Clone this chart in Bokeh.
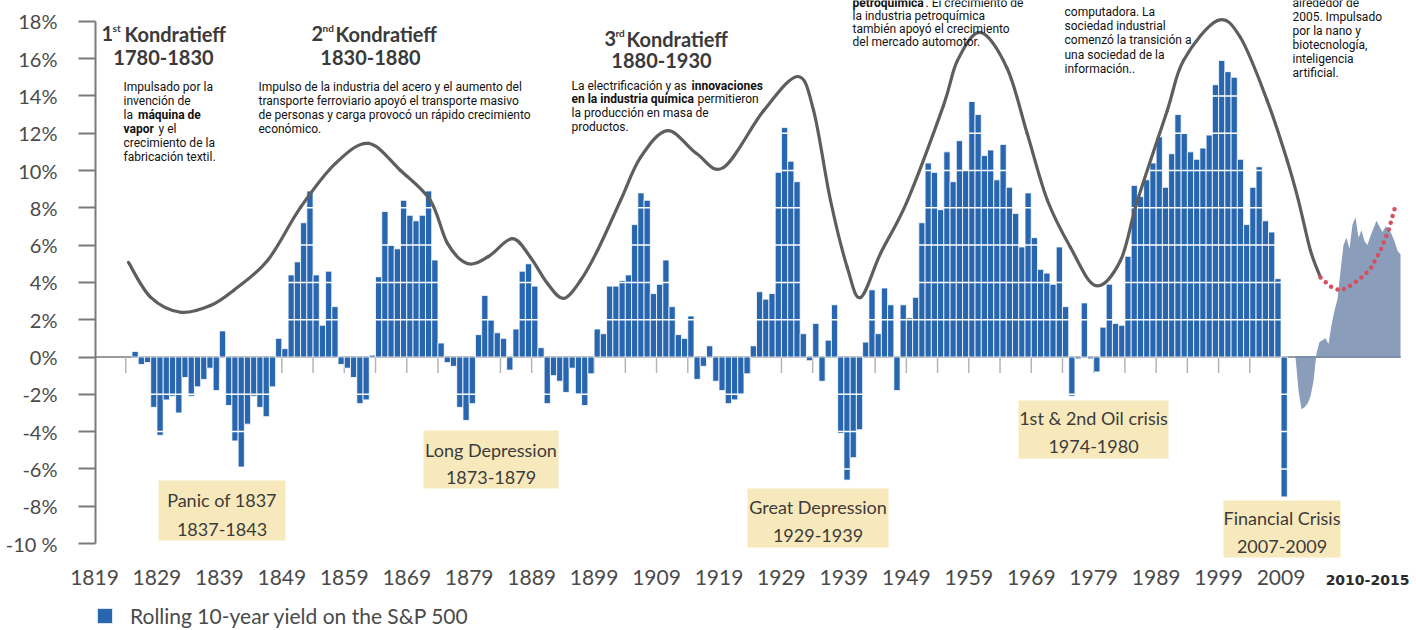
import numpy as np
from bokeh.plotting import figure
from bokeh.models import (Range1d, FixedTicker, Legend, LegendItem, ColumnDataSource,
                          LabelSet, LinearAxis)
from bokeh.core.properties import value
from bokeh.embed import file_html
from bokeh.resources import INLINE

# ---------------- data ----------------
years = list(range(1825, 2010))
yield_pct = [
    0.3, -0.4, -0.3, -2.7, -4.2, -2.3, -2.1, -3.0, -1.1, -2.1,      # 1825-1834
    -1.6, -1.2, -0.6, -1.8, 1.4, -2.6, -4.5, -5.9, -3.6, -2.1,      # 1835-1844
    -2.7, -3.2, -1.6, 1.0, 0.45, 4.4, 5.1, 7.2, 8.9, 4.4,           # 1845-1854
    1.7, 4.6, 2.7, -0.4, -0.6, -1.1, -2.5, -2.3, 0.1, 4.3,          # 1855-1864
    7.8, 6.0, 5.8, 8.4, 7.6, 7.3, 7.6, 8.9, 5.2, 0.75,              # 1865-1874
    -0.3, -0.5, -2.7, -3.4, -2.5, 1.2, 3.3, 2.0, 1.3, 1.0,          # 1875-1884
    -0.7, 1.5, 4.6, 5.0, 3.8, 0.5, -2.5, -1.0, -1.3, -1.9,          # 1885-1894
    -0.6, -2.0, -2.6, -0.9, 1.5, 1.25, 3.8, 3.8, 4.1, 4.4,          # 1895-1904
    7.1, 8.8, 8.4, 3.4, 3.9, 5.2, 2.7, 1.2, 1.0, 2.2,               # 1905-1914
    -1.2, -0.5, 0.6, -1.3, -1.8, -2.5, -2.3, -2.0, -0.9, 0.6,       # 1915-1924
    3.5, 3.1, 3.4, 9.9, 12.3, 10.5, 9.4, 1.25, -0.2, 1.8,           # 1925-1934
    -1.3, 0.9, 2.8, -4.1, -6.6, -5.4, -3.9, 0.8, 3.6, 1.25,         # 1935-1944
    3.7, 2.8, -1.8, 2.8, 2.1, 3.2, 7.2, 10.4, 9.9, 7.9,             # 1945-1954
    11.0, 9.4, 11.6, 10.0, 13.7, 13.0, 10.8, 11.1, 9.5, 11.4,       # 1955-1964
    9.1, 7.7, 5.9, 8.8, 6.4, 4.7, 4.5, 3.9, 5.9, 2.7,               # 1965-1974
    -2.1, -0.1, 2.9, -0.1, -0.8, 1.6, 3.9, 1.8, 1.7, 5.4,           # 1975-1984
    9.2, 8.6, 9.5, 10.4, 11.8, 9.1, 10.9, 13.0, 12.0, 11.0,         # 1985-1994
    10.6, 11.2, 11.9, 14.6, 15.9, 15.3, 15.0, 10.6, 7.1, 9.1,       # 1995-2004
    10.2, 7.3, 6.7, 4.2, -7.5,                                      # 2005-2009
]

# 2010-2015 detail (drawn as a filled area in the inset to the right)
recent_pct = [0.0, -1.8, -2.8, -2.7, -2.5, -2.1, -1.3, 0.2, 0.8, 0.9,
              1.0, 0.7, 1.7, 2.5, 3.1, 4.6, 6.0, 6.4, 5.8, 7.1,
              7.5, 6.4, 6.8, 6.2, 6.0, 6.5, 6.9, 7.3, 7.0, 6.7,
              7.0, 6.9, 6.6, 6.2, 5.7, 5.5]

# Kondratieff wave (position on the time axis, %)
wave_pos = [1824.44, 1827.97, 1832.77, 1837.57, 1841.26, 1846.70, 1851.99, 1857.59,
            1862.87, 1868.00, 1872.80, 1875.52, 1878.73, 1882.09, 1885.93, 1888.82,
            1891.54, 1894.10, 1896.82, 1899.54, 1903.23, 1906.43, 1910.75, 1915.40,
            1919.72, 1926.15, 1931.59, 1934.15, 1936.86, 1939.53, 1941.66, 1944.86,
            1949.18, 1954.94, 1957.19, 1960.87, 1965.15, 1968.35, 1971.60, 1975.29,
            1979.29, 1983.29, 1986.01, 1990.77, 1993.38, 1998.82, 2002.50, 2006.78,
            2009.98, 2011.79, 2013.71, 2015.32]
wave_pct = [5.07, 3.21, 2.40, 2.76, 3.57, 5.17, 8.02, 10.38,
            11.45, 10.0, 8.39, 6.09, 5.01, 5.39, 6.35, 5.34,
            3.94, 3.14, 4.10, 5.71, 8.39, 10.70, 12.14, 10.91,
            10.16, 13.21, 15.04, 13.21, 8.39, 4.81, 3.19, 5.55,
            8.39, 13.48, 15.90, 17.40, 15.47, 11.98, 8.39, 5.87,
            3.83, 5.17, 8.39, 13.21, 15.90, 18.04, 17.13, 13.75,
            10.54, 8.39, 5.71, 4.26]

# projected continuation (red dotted)
proj_pos = [2015.32, 2016.92, 2018.52, 2020.12, 2021.72, 2023.33, 2024.93, 2026.21, 2027.33]
proj_pct = [4.26, 3.78, 3.56, 3.83, 4.21, 4.74, 5.71, 6.78, 8.12]

ytick_values = [-10, -8, -6, -4, -2, 0, 2, 4, 6, 8, 10, 12, 14, 16, 18]
ytick_labels = ["-10 %", "-8%", "-6%", "-4%", "-2%", "0%", "2%", "4%", "6%", "8%",
                "10%", "12%", "14%", "16%", "18%"]
xtick_years = list(range(1819, 2010, 10))
xtick_labels = [str(y) for y in xtick_years]
small_tick_years = list(range(1824, 2005, 5))

crisis_names = ["Panic of 1837", "Long Depression", "Great Depression",
                "1st & 2nd Oil crisis", "Financial Crisis"]
crisis_spans = ["1837-1843", "1873-1879", "1929-1939", "1974-1980", "2007-2009"]
wave_num = ["1", "2", "3"]
wave_sup = ["st", "nd", "rd"]
wave_years = ["1780-1830", "1830-1880", "1880-1930"]
legend_label = "Rolling 10-year yield on the S&P 500"
inset_label = "2010-2015"

# ---------------- layout helpers (page pixels -> data) ----------------
LEFT, TOP = 0, 0            # where the figure lands on the captured page
PX0, PXY = 94.0, 6.245      # page x of 1819, px per year
PY0, PYP = 356.5, 18.65     # page y of 0%, px per percent
def X(px): return 1819 + (px - PX0) / PXY
def Y(py): return (PY0 - py) / PYP

W, H = 1414, 629
p = figure(width=W, height=H, output_backend="svg", toolbar_location=None,
           x_range=Range1d(X(LEFT), X(LEFT + W)), y_range=Range1d(Y(TOP + H), Y(TOP)),
           x_axis_location=None, y_axis_location=None,
           min_border_left=0, min_border_right=0, min_border_top=0, min_border_bottom=0)
p.outline_line_color = None
p.xgrid.visible = False
p.ygrid.visible = False

FONT = "Lato"

# y axis, pinned at the left edge of the bars area
yax = LinearAxis(fixed_location=X(95), bounds=(-10, 18),
                 ticker=FixedTicker(ticks=ytick_values),
                 major_label_overrides=dict(zip(ytick_values, ytick_labels)),
                 axis_line_color="#7a7a7a", axis_line_width=2,
                 major_tick_line_color="#7a7a7a", major_tick_line_width=2,
                 major_tick_out=17, major_tick_in=0, minor_tick_line_color=None,
                 major_label_standoff=21, major_label_text_font=FONT,
                 major_label_text_font_size="20px", major_label_text_color="#4a4a4a")
p.add_layout(yax, "left")

# x tick labels (years) at the bottom
xlab = ColumnDataSource(dict(x=xtick_years, y=[Y(577)] * len(xtick_years), t=xtick_labels))
p.add_layout(LabelSet(x="x", y="y", text="t", source=xlab, text_font=value(FONT),
                      text_font_size="21px", text_color="#4a4a4a",
                      text_align="center", text_baseline="middle"))
p.text(x=[X(1367)], y=[Y(579)], text=[inset_label], text_font=value("DejaVu Sans"),
       text_font_style="bold", text_font_size="14px", text_color="#2a2a2a",
       text_align="center", text_baseline="middle")

# zero line and small ticks
p.segment(x0=[X(95)], y0=[0], x1=[X(1400)], y1=[0], line_color="#9a9a9a", line_width=2)
p.segment(x0=small_tick_years, y0=[0] * len(small_tick_years), x1=small_tick_years,
          y1=[-16 / PYP] * len(small_tick_years), line_color="#b5b5b5", line_width=1.5)

# bars
src = ColumnDataSource(dict(x=np.array(years) + 0.5, top=yield_pct))
bars = p.vbar(x="x", top="top", bottom=0, width=1.0, source=src,
              fill_color="#2866b0", line_color="white", line_width=0.8)

# white grid lines over the bars
gy = [v for v in ytick_values if v != 0]
p.segment(x0=[X(96)] * len(gy), y0=gy, x1=[2010.3] * len(gy), y1=gy,
          line_color="white", line_width=1.5)

# 2010-2015 inset area
rx = np.linspace(X(1295), X(1400), len(recent_pct))
p.varea(x=rx, y1=[0] * len(recent_pct), y2=recent_pct, fill_color="#8a9dba")
p.segment(x0=[X(1295)], y0=[0], x1=[X(1400)], y1=[0], line_color="#7c8ea8", line_width=2)

# Kondratieff wave: smooth Bezier segments through the read points
P = np.column_stack([wave_pos, wave_pct])
n = len(P)
x0s, y0s, x1s, y1s, cx0, cy0, cx1, cy1 = ([] for _ in range(8))
for i in range(n - 1):
    pm = P[i - 1] if i > 0 else P[i]
    p1, p2 = P[i], P[i + 1]
    p3 = P[i + 2] if i + 2 < n else P[i + 1]
    c1 = p1 + (p2 - pm) / 6.0
    c2 = p2 - (p3 - p1) / 6.0
    x0s.append(p1[0]); y0s.append(p1[1]); x1s.append(p2[0]); y1s.append(p2[1])
    cx0.append(c1[0]); cy0.append(c1[1]); cx1.append(c2[0]); cy1.append(c2[1])
p.bezier(x0=x0s, y0=y0s, x1=x1s, y1=y1s, cx0=cx0, cy0=cy0, cx1=cx1, cy1=cy1,
         line_color="#5e5e5e", line_width=3.2, line_cap="round")

# projection
p.line(proj_pos, proj_pct, line_color="#d4505f", line_width=4.5,
       line_dash="0 7", line_cap="round")

# crisis boxes
boxes = [(158, 285, 480, 540), (423, 558, 430, 488), (747, 888, 488, 547),
         (1018, 1168, 400, 458), (1223, 1340, 500, 557)]
p.quad(left=[X(b[0]) for b in boxes], right=[X(b[1]) for b in boxes],
       top=[Y(b[2]) for b in boxes], bottom=[Y(b[3]) for b in boxes],
       fill_color="#f8e9bc", line_color=None)
cx = [(b[0] + b[1]) / 2 for b in boxes]
l1y = [499, 449, 506, 417, 517]
l2y = [529, 477, 535, 446, 546]
box_style = dict(text_font=value(FONT), text_font_size="18px", text_color="#3b3b3b",
                 text_align="center", text_baseline="middle")
p.text(x=[X(c) for c in cx], y=[Y(v) for v in l1y], text=crisis_names, **box_style)
p.text(x=[X(c) for c in cx], y=[Y(v) for v in l2y], text=crisis_spans, **box_style)

# Kondratieff titles
title_style = dict(text_font=value(FONT), text_font_style="bold", text_color="#3a3a3a",
                   text_baseline="middle")
num_x = [101, 311, 604]
sup_x = [112, 322, 615]
kon_x = [124, 335, 626]
t_y = [33, 33, 38]
yr_x = [163, 370, 661]
yr_y = [57, 57, 60]
p.text(x=[X(v) for v in num_x], y=[Y(v) for v in t_y], text=wave_num,
       text_font_size="20px", text_align="left", **title_style)
p.text(x=[X(v) for v in sup_x], y=[Y(v - 6) for v in t_y], text=wave_sup,
       text_font_size="10px", text_align="left", **title_style)
p.text(x=[X(v) for v in kon_x], y=[Y(v) for v in t_y], text=["Kondratieff"] * 3,
       text_font_size="20px", text_align="left", **title_style)
p.text(x=[X(v) for v in yr_x], y=[Y(v) for v in yr_y], text=wave_years,
       text_font_size="20px", text_align="center", **title_style)

# descriptions
def put(texts, xs, ys, bold=False):
    p.text(x=[X(v) for v in xs], y=[Y(v) for v in ys], text=texts,
           text_font=value("Roboto"), text_font_size="12px", text_color="#111111",
           text_font_style="bold" if bold else "normal",
           text_align="left", text_baseline="middle")

put(["Impulsado por la", "invención de", "la", "y el", "crecimiento de la",
     "fabricación textil."], [123, 123, 123, 158, 123, 123], [86, 100, 114, 128, 142, 156])
put(["máquina de", "vapor"], [137.5, 123], [114, 128], bold=True)

put(["Impulso de la industria del acero y el aumento del",
     "transporte ferroviario apoyó el transporte masivo",
     "de personas y carga provocó un rápido crecimiento",
     "económico."], [258] * 4, [86, 100, 114, 128])

put(["La electrificación y as", "permitieron", "la producción en masa de", "productos."],
    [571, 697, 571, 571], [85, 98.5, 112, 126])
put(["innovaciones", "en la industria química"], [691, 571], [85, 98.5], bold=True)

put([". El crecimiento de", "la industria petroquímica", "también apoyó el crecimiento",
     "del mercado automotor."], [925, 852, 852, 852], [2, 15, 28, 41])
put(["petroquímica"], [852], [2], bold=True)

put(["computadora. La", "sociedad industrial", "comenzó la transición a",
     "una sociedad de la", "información.."], [1064] * 5, [11, 25, 39.5, 54, 68.5])

put(["alrededor de", "2005. Impulsado", "por la nano y", "biotecnología,",
     "inteligencia", "artificial."], [1292] * 6, [2, 16, 30, 44, 58, 72])

# legend (inside the frame, bottom-left under the year labels)
legend = Legend(items=[LegendItem(label=legend_label, renderers=[bars])],
                location=(95 - LEFT, 1), orientation="horizontal",
                border_line_color=None, background_fill_alpha=0,
                label_text_font=FONT, label_text_font_size="21px",
                label_text_color="#4a4a4a", glyph_width=19, glyph_height=19,
                label_standoff=16, padding=0, margin=0, spacing=0, label_height=19)
p.add_layout(legend)

open("out.html", "w").write(file_html(p, INLINE))
